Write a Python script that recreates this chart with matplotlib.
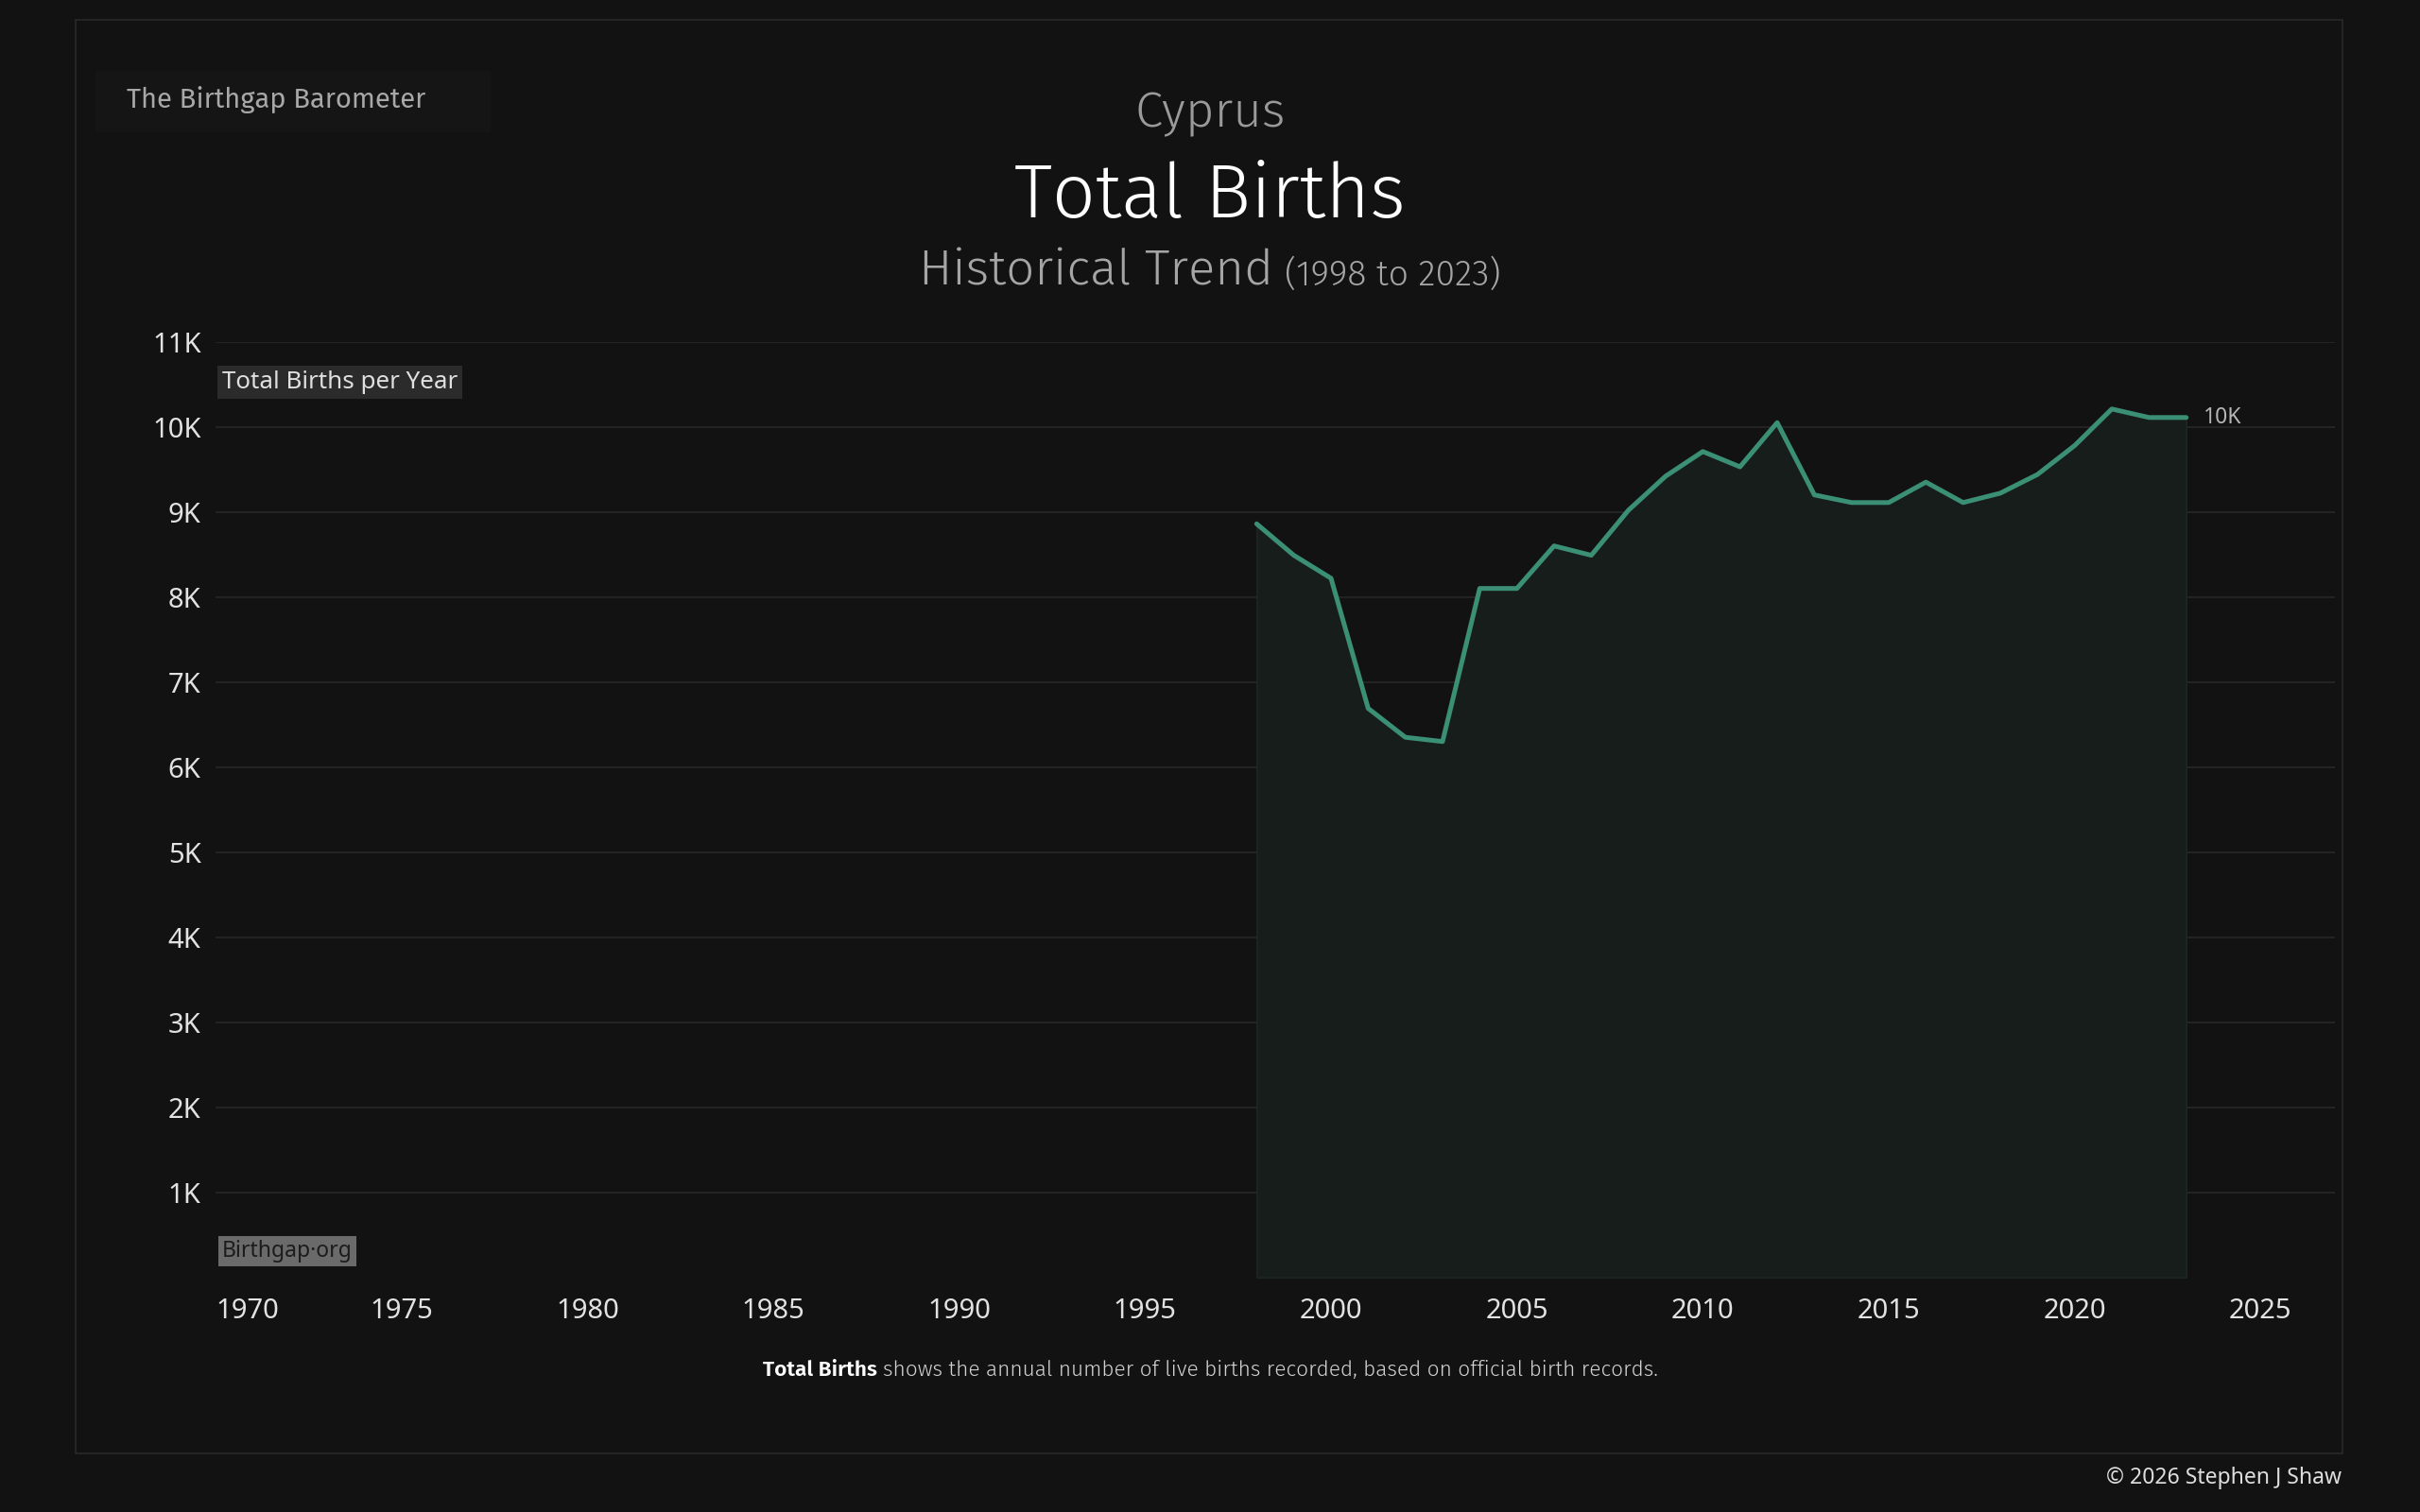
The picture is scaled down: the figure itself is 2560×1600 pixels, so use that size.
import matplotlib
matplotlib.use("Agg")
import matplotlib.pyplot as plt
from matplotlib.patches import Rectangle

# annual live births, Cyprus
years = [1998, 1999, 2000, 2001, 2002, 2003, 2004, 2005, 2006, 2007, 2008, 2009, 2010,
         2011, 2012, 2013, 2014, 2015, 2016, 2017, 2018, 2019, 2020, 2021, 2022, 2023]
births = [8860, 8490, 8220, 6690, 6350, 6300, 8100, 8100, 8600, 8490, 9020, 9420, 9710,
          9530, 10050, 9200, 9110, 9110, 9350, 9110, 9220, 9440, 9780, 10210, 10110, 10110]

ytick_vals = [1000, 2000, 3000, 4000, 5000, 6000, 7000, 8000, 9000, 10000, 11000]
ytick_labels = ['1K', '2K', '3K', '4K', '5K', '6K', '7K', '8K', '9K', '10K', '11K']
xtick_vals = [1970, 1975, 1980, 1985, 1990, 1995, 2000, 2005, 2010, 2015, 2020, 2025]

BG = '#121212'
LINE = '#3b8f75'
W, H = 2560, 1600
TITLE_FONT = ['Fira Sans', 'DejaVu Sans']

plt.rcParams['font.family'] = ['Noto Sans', 'DejaVu Sans']

fig = plt.figure(figsize=(25.6, 16), dpi=100, facecolor=BG)

def fx(px):
    return px / W

def fy(py):
    return 1 - py / H

# outer frame and the small header box
fig.patches.append(Rectangle((fx(80), fy(1538)), fx(2478) - fx(80), fy(21) - fy(1538),
                             transform=fig.transFigure, fill=False, edgecolor='#2a2a2a', linewidth=1.2))
fig.patches.append(Rectangle((fx(101), fy(140)), fx(519) - fx(101), fy(75) - fy(140),
                             transform=fig.transFigure, facecolor='#151515', edgecolor='none'))

ax = fig.add_axes([fx(228), fy(1351.7), fx(2470) - fx(228), fy(361.7) - fy(1351.7)])
ax.set_facecolor(BG)
for s in ax.spines.values():
    s.set_visible(False)

ax.set_xlim(1970, 2027)
ax.set_ylim(0, 11000)

for v in ytick_vals:
    ax.axhline(v, color='#232323', linewidth=1.5, zorder=0)

ax.fill_between(years, births, 0, facecolor='#161d1a', edgecolor='#1c2723', linewidth=1.2, zorder=1)
ax.plot(years, births, color=LINE, linewidth=3.6, solid_capstyle='round', solid_joinstyle='round', zorder=3)

ax.annotate('10K', xy=(years[-1], births[-1]), xytext=(13, 0), textcoords='offset points',
            va='center', ha='left', fontsize=16.5, color='#b5b5b5')

ax.set_yticks(ytick_vals)
ax.set_yticklabels(ytick_labels)
ax.set_xticks(xtick_vals)
ax.set_xticklabels([str(x) for x in xtick_vals])
ax.tick_params(axis='both', length=0, labelsize=21, labelcolor='#e2e2e2')
ax.tick_params(axis='y', pad=11)
ax.tick_params(axis='x', pad=15)
ax.get_xticklabels()[0].set_horizontalalignment('left')

# header texts
fig.text(fx(134), fy(114), 'The Birthgap Barometer', fontsize=21, color='#a8a8a8', va='baseline', ha='left',
         family=TITLE_FONT, fontweight=400)
fig.text(0.5, fy(134), 'Cyprus', fontsize=38, color='#9a9a9a', va='baseline', ha='center',
         family=TITLE_FONT, fontweight=300)
fig.text(0.5, fy(230), 'Total Births', fontsize=58, color='#ffffff', va='baseline', ha='center',
         family=TITLE_FONT, fontweight=300)

renderer = fig.canvas.get_renderer()

def centered_pair(y, a, b, gap, center=0.5):
    t1 = fig.text(0, y, a['s'], va='baseline', ha='left', **a['kw'])
    t2 = fig.text(0, y, b['s'], va='baseline', ha='left', **b['kw'])
    w1 = t1.get_window_extent(renderer).width
    w2 = t2.get_window_extent(renderer).width
    total = w1 + gap + w2
    x0 = center * W - total / 2
    t1.set_x(x0 / W)
    t2.set_x((x0 + w1 + gap) / W)

centered_pair(fy(302),
              {'s': 'Historical Trend', 'kw': dict(fontsize=38, color='#a5a5a5', family=TITLE_FONT, fontweight=300)},
              {'s': '(1998 to 2023)', 'kw': dict(fontsize=27, color='#a5a5a5', family=TITLE_FONT, fontweight=300)},
              12)

centered_pair(fy(1456),
              {'s': 'Total Births', 'kw': dict(fontsize=16.3, color='#ffffff', family=TITLE_FONT, fontweight=600)},
              {'s': 'shows the annual number of live births recorded, based on official birth records.',
               'kw': dict(fontsize=16.3, color='#d2d2d2', family=TITLE_FONT, fontweight=300)},
              6)

# in-chart labels
fig.text(fx(235), fy(411), 'Total Births per Year', fontsize=18.7, color='#e0e0e0', va='baseline', ha='left',
         bbox=dict(facecolor='#2b2b2b', edgecolor='none', pad=3.5))
fig.text(fx(235), fy(1330), 'Birthgap\u00b7org', fontsize=16.5, color='#1c1c1c', va='baseline', ha='left',
         bbox=dict(facecolor='#6a6a6a', edgecolor='none', pad=3))

fig.text(fx(2477), fy(1570), '\u00a9 2026 Stephen J Shaw', fontsize=16.5, color='#dedede', va='baseline', ha='right')

fig.savefig('out.png', dpi=100, facecolor=BG)
